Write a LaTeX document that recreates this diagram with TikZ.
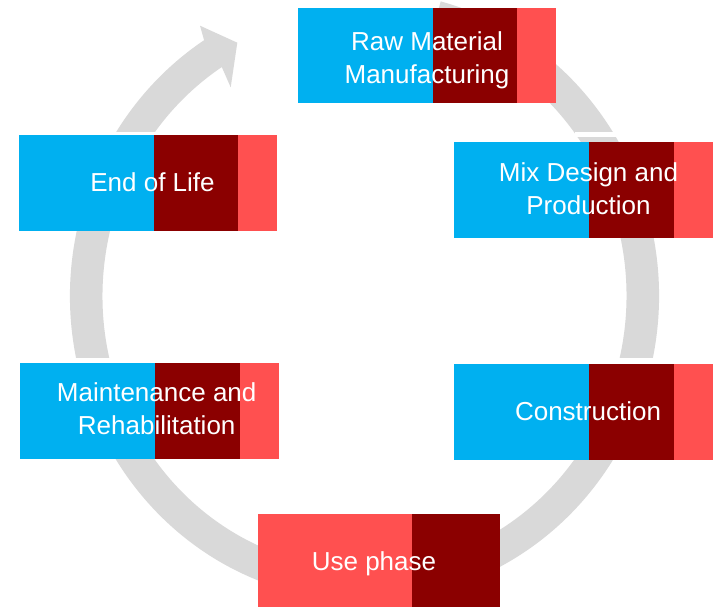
\documentclass[tikz,border=0pt]{standalone}
\usepackage{fontspec}
\setmainfont{Liberation Sans}
\usetikzlibrary{calc}
\definecolor{cblue}{HTML}{00B0F0}
\definecolor{cdark}{HTML}{8B0000}
\definecolor{clight}{HTML}{FF5050}
\definecolor{ringgray}{HTML}{D9D9D9}
\tikzset{
  seg/.style={draw=none, inner sep=0pt, outer sep=0pt, anchor=north west},
  lbl/.style={text=white, font=\fontsize{26}{33}\selectfont, align=center, inner sep=0pt},
  gap/.style={fill=white, draw=none}
}
\begin{document}
\begin{tikzpicture}[x=1pt,y=1pt]
\useasboundingbox (0,0) rectangle (713,-607);
\clip (0,0) rectangle (713,-607);
\fill[white] (0,0) rectangle (713,-607);

% ring
\coordinate (c) at (364.5,-296);
\coordinate (barbO) at (200,-25.7);
\coordinate (tip) at (237.3,-42.7);
\coordinate (barbI) at (230.7,-87.3);
\fill[ringgray] ($(c)+(75:294.5pt and 305pt)$)
  arc[start angle=75, end angle=-237, x radius=294.5pt, y radius=305pt]
  -- (barbO) -- (tip) -- (barbI)
  -- ($(c)+(-237:262pt and 273pt)$)
  arc[start angle=-237, end angle=75, x radius=262pt, y radius=273pt]
  -- cycle;
% gaps between ring segments
\fill[gap] (575,-131.7) rectangle (645,-136.7);
\fill[gap] (50,-358) rectangle (125,-362.7);
\fill[gap] (600,-358) rectangle (680,-364);
\fill[gap] (95,-131.7) rectangle (180,-135);

% Raw Material Manufacturing
\node[seg, fill=cblue,  minimum width=135pt, minimum height=95pt] (rawA) at (298,-8) {};
\node[seg, fill=cdark,  minimum width=84pt,  minimum height=95pt] (rawB) at (433,-8) {};
\node[seg, fill=clight, minimum width=39pt,  minimum height=95pt] (rawC) at (517,-8) {};
\node[lbl] (raw) at (427,-60) {Raw Material\\Manufacturing};

% Mix Design and Production
\node[seg, fill=cblue,  minimum width=135pt, minimum height=96pt] (mixA) at (454,-142) {};
\node[seg, fill=cdark,  minimum width=85pt,  minimum height=96pt] (mixB) at (589,-142) {};
\node[seg, fill=clight, minimum width=39pt,  minimum height=96pt] (mixC) at (674,-142) {};
\node[lbl] (mix) at (588.5,-189) {Mix Design and\\Production};

% Construction
\node[seg, fill=cblue,  minimum width=135pt, minimum height=96pt] (conA) at (454,-364) {};
\node[seg, fill=cdark,  minimum width=85pt,  minimum height=96pt] (conB) at (589,-364) {};
\node[seg, fill=clight, minimum width=39pt,  minimum height=96pt] (conC) at (674,-364) {};
\node[lbl, anchor=base] (con) at (588,-420.7) {Construction};

% Use phase
\node[seg, fill=clight, minimum width=154pt, minimum height=93pt] (useA) at (258,-514) {};
\node[seg, fill=cdark,  minimum width=88pt,  minimum height=93pt] (useB) at (412,-514) {};
\node[lbl, anchor=base] (use) at (374,-570.7) {Use phase};

% Maintenance and Rehabilitation
\node[seg, fill=cblue,  minimum width=135pt, minimum height=95.5pt] (mntA) at (20,-363) {};
\node[seg, fill=cdark,  minimum width=85pt,  minimum height=95.5pt] (mntB) at (155,-363) {};
\node[seg, fill=clight, minimum width=39pt,  minimum height=95.5pt] (mntC) at (240,-363) {};
\node[lbl] (mnt) at (156.7,-409.2) {Maintenance and\\Rehabilitation};

% End of Life
\node[seg, fill=cblue,  minimum width=135pt, minimum height=96pt] (eolA) at (19,-135) {};
\node[seg, fill=cdark,  minimum width=84pt,  minimum height=96pt] (eolB) at (154,-135) {};
\node[seg, fill=clight, minimum width=39pt,  minimum height=96pt] (eolC) at (238,-135) {};
\node[lbl, anchor=base] (eol) at (152.5,-191.7) {End of Life};
\end{tikzpicture}
\end{document}
